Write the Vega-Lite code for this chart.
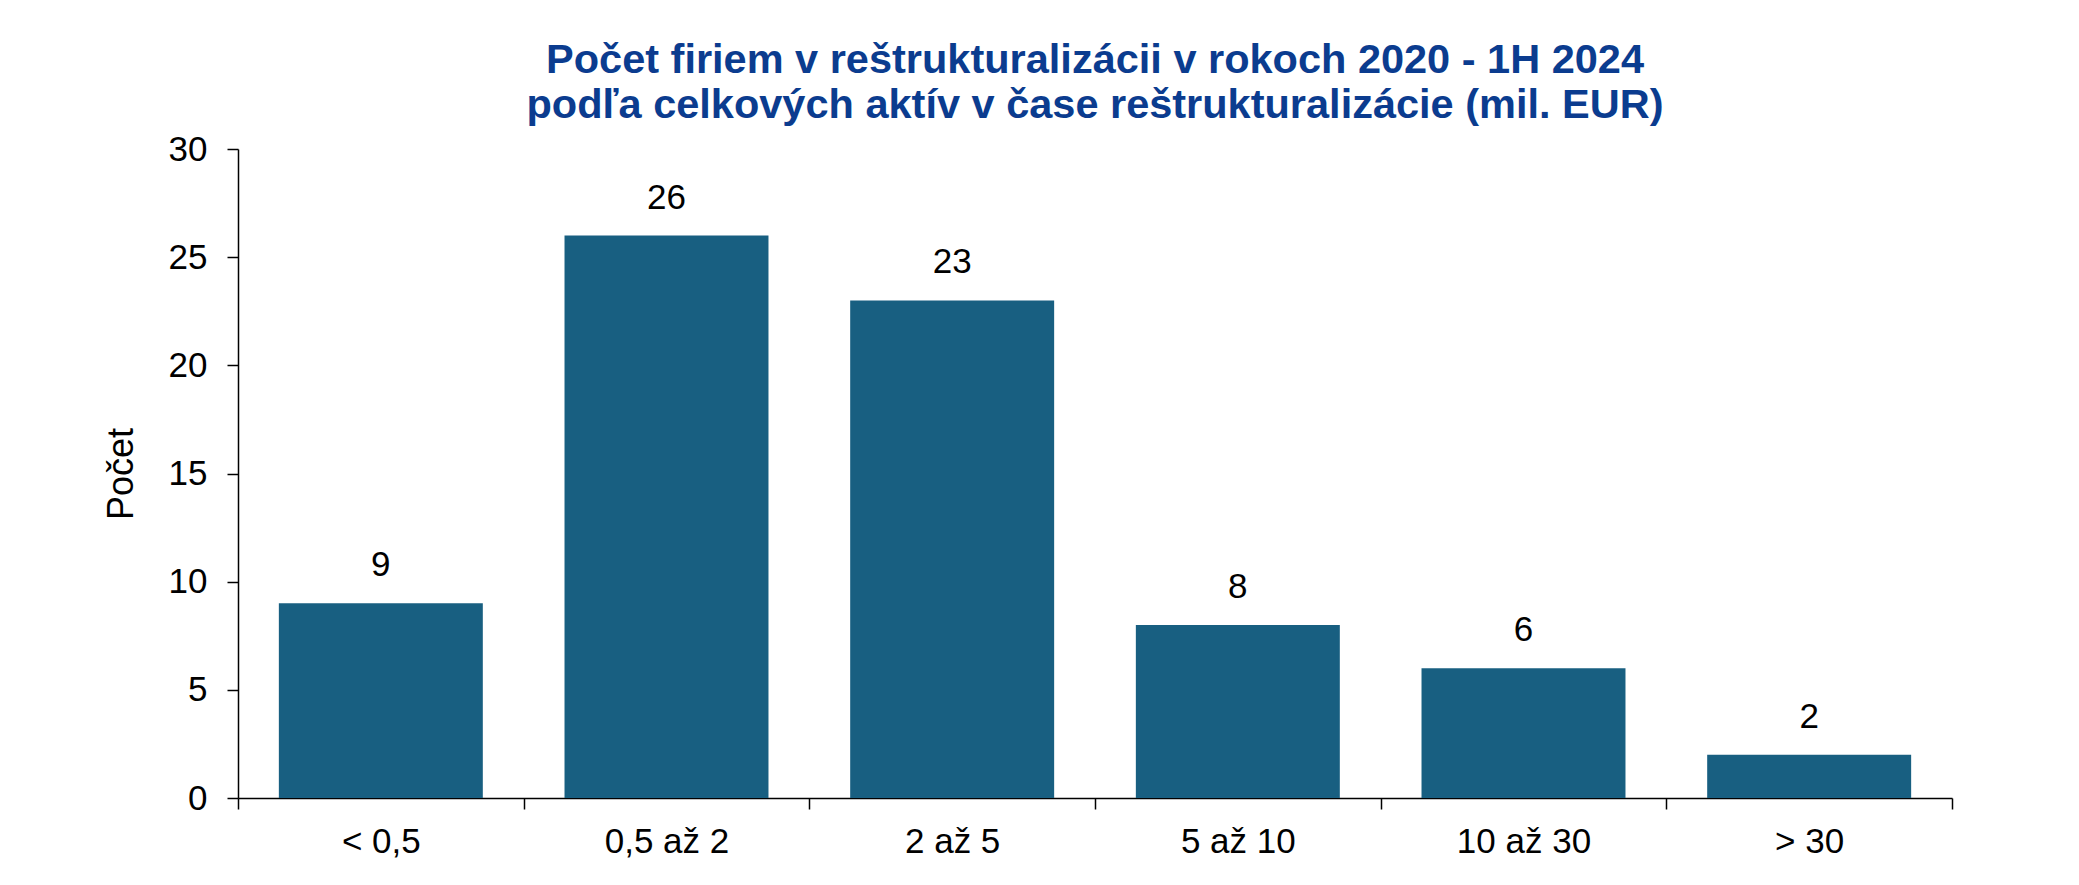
{
  "$schema": "https://vega.github.io/schema/vega-lite/v6.json",
  "width": 1714,
  "height": 649,
  "autosize": {"type": "none"},
  "padding": {"left": 238, "top": 149, "right": 127, "bottom": 87},
  "background": "white",
  "title": {
    "text": ["Počet firiem v reštrukturalizácii v rokoch 2020 - 1H 2024", "podľa celkových aktív v čase reštrukturalizácie (mil. EUR)"],
    "font": "Liberation Sans",
    "fontSize": 41.5,
    "fontWeight": "bold",
    "color": "#0b3c8f",
    "anchor": "middle",
    "lineHeight": 45,
    "offset": 6
  },
  "data": {
    "values": [
      {"kategoria": "< 0,5", "pocet": 9},
      {"kategoria": "0,5 až 2", "pocet": 26},
      {"kategoria": "2 až 5", "pocet": 23},
      {"kategoria": "5 až 10", "pocet": 8},
      {"kategoria": "10 až 30", "pocet": 6},
      {"kategoria": "> 30", "pocet": 2}
    ]
  },
  "encoding": {
    "x": {
      "field": "kategoria",
      "type": "nominal",
      "sort": null,
      "scale": {"paddingInner": 0, "paddingOuter": 0},
      "axis": {
        "title": null,
        "labelAngle": 0,
        "labelFont": "Liberation Sans",
        "labelFontSize": 35,
        "labelColor": "black",
        "labelPadding": 15,
        "tickBand": "extent",
        "tickColor": "black",
        "tickSize": 11,
        "tickWidth": 1.5,
        "domainColor": "black",
        "domainWidth": 1.5
      }
    },
    "y": {
      "field": "pocet",
      "type": "quantitative",
      "scale": {"domain": [0, 30], "nice": false},
      "axis": {
        "title": "Počet",
        "titleFont": "Liberation Sans",
        "titleFontSize": 36,
        "titleFontWeight": "normal",
        "titleColor": "black",
        "titlePadding": 28,
        "values": [0, 5, 10, 15, 20, 25, 30],
        "grid": false,
        "labelFont": "Liberation Sans",
        "labelFontSize": 35,
        "labelColor": "black",
        "labelPadding": 20,
        "tickColor": "black",
        "tickSize": 11,
        "tickWidth": 1.5,
        "domainColor": "black",
        "domainWidth": 1.5
      }
    }
  },
  "layer": [
    {"mark": {"type": "bar", "color": "#185f81", "width": {"band": 0.714}}},
    {
      "mark": {"type": "text", "font": "Liberation Sans", "fontSize": 35, "color": "black", "baseline": "alphabetic", "dy": -27},
      "encoding": {"text": {"field": "pocet", "type": "quantitative"}}
    }
  ],
  "config": {"view": {"stroke": null}}
}
